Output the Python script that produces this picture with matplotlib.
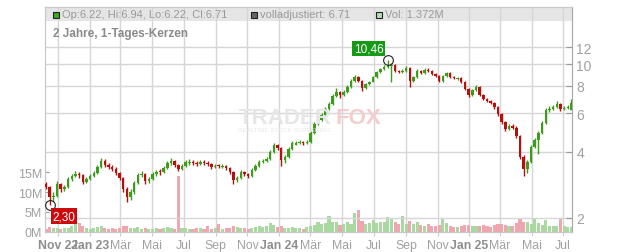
import matplotlib
matplotlib.use("Agg")
import matplotlib.pyplot as plt
import matplotlib.dates as mdates
import numpy as np
import pandas as pd

plt.rcParams['font.family'] = ['Liberation Sans', 'DejaVu Sans']

# weekly candles (price in EUR, volume in millions)
weeks = pd.date_range("2022-10-09", "2025-07-17", periods=144)

opens = [2.85, 2.76, 2.49, 2.52, 2.86, 2.71, 2.76, 3.01, 3.11, 3.17,
         3.14, 2.92, 3.01, 3.11, 3.20, 3.41, 3.64, 3.48, 3.41, 3.34,
         3.20, 3.04, 2.71, 2.49, 2.62, 2.89, 3.14, 3.17, 2.95, 3.01,
         3.17, 3.28, 3.24, 3.37, 3.56, 3.64, 3.48, 3.34, 3.45, 3.55,
         3.60, 3.56, 3.52, 3.60, 3.56, 3.52, 3.41, 3.49, 3.41, 3.45,
         3.37, 3.24, 2.98, 3.04, 3.24, 3.17, 3.11, 3.30, 3.45, 3.60,
         3.64, 3.71, 4.00, 4.30, 4.17, 3.68, 3.79, 4.13, 4.32, 4.38,
         4.43, 4.38, 4.43, 4.87, 5.36, 5.58, 5.87, 6.27, 6.60, 7.18,
         7.49, 7.26, 7.49, 7.90, 8.41, 8.77, 8.41, 7.81, 8.15, 8.32,
         8.77, 9.24, 9.54, 9.74, 9.85, 9.95, 9.34, 9.24, 9.34, 9.64,
         8.41, 8.77, 9.34, 9.14, 9.44, 9.34, 9.05, 8.86, 8.41, 8.86,
         9.14, 8.77, 8.60, 8.68, 8.32, 7.73, 7.26, 7.65, 7.90, 7.26,
         6.96, 6.82, 6.68, 6.40, 5.95, 5.47, 5.08, 5.25, 5.14, 4.70,
         3.79, 3.34, 3.60, 4.21, 4.53, 4.87, 5.42, 6.20, 6.27, 6.40,
         6.60, 6.27, 6.33, 6.22]
highs = [2.92, 2.80, 2.62, 2.95, 2.90, 2.84, 3.08, 3.18, 3.26, 3.25,
         3.18, 3.08, 3.16, 3.27, 3.48, 3.74, 3.70, 3.55, 3.50, 3.40,
         3.25, 3.08, 2.76, 2.70, 2.96, 3.20, 3.27, 3.22, 3.07, 3.23,
         3.32, 3.33, 3.45, 3.64, 3.76, 3.68, 3.52, 3.52, 3.68, 3.70,
         3.66, 3.62, 3.68, 3.66, 3.62, 3.56, 3.52, 3.54, 3.53, 3.50,
         3.42, 3.28, 3.10, 3.30, 3.29, 3.22, 3.37, 3.52, 3.66, 3.72,
         3.80, 4.08, 4.40, 4.36, 4.20, 3.86, 4.20, 4.46, 4.48, 4.52,
         4.48, 4.52, 4.98, 5.48, 5.70, 6.00, 6.40, 6.74, 7.32, 7.80,
         7.58, 7.62, 8.05, 8.55, 8.95, 8.85, 8.48, 8.26, 8.45, 8.90,
         9.38, 9.68, 9.90, 10.46, 10.20, 10.00, 9.48, 9.50, 9.85, 9.70,
         8.90, 9.50, 9.45, 9.62, 9.60, 9.42, 9.14, 8.95, 8.98, 9.28,
         9.20, 8.90, 8.80, 8.75, 8.40, 7.80, 7.76, 8.10, 7.98, 7.35,
         7.05, 6.92, 6.75, 6.48, 6.02, 5.55, 5.36, 5.38, 5.22, 4.78,
         3.86, 3.68, 4.30, 4.62, 4.98, 5.55, 6.32, 6.45, 6.55, 6.85,
         6.68, 6.45, 6.52, 6.94]
lows = [2.70, 2.30, 2.40, 2.50, 2.62, 2.66, 2.74, 2.96, 3.06, 3.05,
        2.85, 2.88, 2.97, 3.06, 3.16, 3.38, 3.42, 3.35, 3.28, 3.14,
        2.98, 2.62, 2.36, 2.42, 2.58, 2.85, 3.08, 2.86, 2.90, 2.98,
        3.12, 3.15, 3.20, 3.33, 3.50, 3.40, 3.28, 3.30, 3.42, 3.50,
        3.48, 3.46, 3.48, 3.50, 3.46, 3.34, 3.38, 3.38, 3.38, 3.31,
        3.18, 2.86, 2.92, 3.00, 3.10, 3.05, 3.08, 3.26, 3.42, 3.55,
        3.60, 3.68, 3.96, 4.08, 3.45, 3.55, 3.75, 4.10, 4.28, 4.33,
        4.30, 4.33, 4.40, 4.82, 5.30, 5.52, 5.80, 6.20, 6.55, 7.10,
        7.05, 7.20, 7.42, 7.85, 8.35, 8.30, 7.55, 7.75, 8.05, 8.28,
        8.70, 9.18, 9.45, 9.68, 8.32, 9.20, 9.10, 9.15, 9.28, 7.90,
        8.30, 8.70, 9.02, 9.08, 9.25, 8.96, 8.76, 8.30, 8.35, 8.80,
        8.66, 8.58, 8.52, 8.22, 7.62, 7.14, 7.20, 7.58, 7.15, 6.88,
        6.74, 6.58, 6.30, 5.85, 5.38, 5.00, 5.02, 5.06, 4.62, 3.70,
        3.10, 3.20, 3.55, 4.15, 3.92, 4.80, 5.38, 6.10, 6.18, 6.35,
        6.15, 6.20, 6.25, 6.22]
closes = [2.76, 2.49, 2.52, 2.86, 2.71, 2.76, 3.01, 3.11, 3.17, 3.14,
          2.92, 3.01, 3.11, 3.20, 3.41, 3.64, 3.48, 3.41, 3.34, 3.20,
          3.04, 2.71, 2.49, 2.62, 2.89, 3.14, 3.17, 2.95, 3.01, 3.17,
          3.24, 3.24, 3.37, 3.56, 3.64, 3.48, 3.34, 3.45, 3.60, 3.60,
          3.56, 3.52, 3.60, 3.56, 3.52, 3.41, 3.45, 3.45, 3.45, 3.37,
          3.24, 2.98, 3.04, 3.24, 3.17, 3.11, 3.30, 3.45, 3.60, 3.64,
          3.71, 4.00, 4.30, 4.17, 3.68, 3.79, 4.13, 4.38, 4.38, 4.43,
          4.38, 4.43, 4.87, 5.36, 5.58, 5.87, 6.27, 6.60, 7.18, 7.49,
          7.26, 7.49, 7.90, 8.41, 8.77, 8.41, 7.81, 8.15, 8.32, 8.77,
          9.24, 9.54, 9.74, 9.95, 9.95, 9.34, 9.24, 9.34, 9.64, 8.41,
          8.77, 9.34, 9.14, 9.44, 9.34, 9.05, 8.86, 8.41, 8.86, 9.14,
          8.77, 8.68, 8.68, 8.32, 7.73, 7.26, 7.65, 7.90, 7.26, 6.96,
          6.82, 6.68, 6.40, 5.95, 5.47, 5.08, 5.25, 5.14, 4.70, 3.79,
          3.34, 3.60, 4.21, 4.53, 4.87, 5.42, 6.20, 6.27, 6.40, 6.60,
          6.27, 6.33, 6.40, 6.71]
volumes = [0.8, 1.2, 0.9, 1.0, 0.7, 0.9, 1.1, 1.4, 2.0, 2.2,
           1.6, 0.9, 0.8, 1.0, 1.3, 1.5, 1.0, 0.7, 0.9, 0.8,
           0.9, 1.4, 1.6, 1.1, 1.0, 1.2, 0.8, 0.9, 0.7, 0.8,
           0.9, 0.7, 1.0, 1.2, 1.1, 0.8, 14.0, 1.0, 0.9, 0.8,
           0.7, 0.9, 1.0, 0.8, 1.4, 0.7, 0.9, 2.0, 0.8, 0.9,
           1.0, 1.5, 1.2, 0.9, 1.0, 0.8, 1.1, 1.3, 1.5, 1.2,
           1.4, 2.2, 1.8, 1.3, 1.6, 1.0, 1.1, 1.2, 0.9, 1.0,
           0.8, 1.2, 1.5, 1.8, 2.5, 2.0, 2.2, 4.0, 2.4, 2.6,
           1.8, 2.0, 2.4, 2.1, 4.7, 5.5, 2.8, 2.0, 2.3, 3.0,
           2.2, 2.6, 2.4, 3.7, 3.2, 2.5, 2.0, 4.0, 2.1, 2.8,
           2.0, 2.4, 1.8, 1.6, 1.9, 1.4, 1.5, 1.8, 3.2, 2.2,
           1.6, 1.3, 1.2, 1.5, 1.8, 1.7, 1.4, 1.6, 1.5, 1.8,
           1.4, 1.2, 1.7, 1.9, 2.0, 1.8, 1.5, 1.6, 2.2, 3.2,
           2.6, 2.4, 2.0, 3.2, 2.2, 1.8, 3.0, 1.6, 1.4, 1.5,
           3.2, 1.4, 1.2, 1.372]

month_ticks = pd.date_range("2022-11-01", "2025-07-01", freq="2MS")
month_labels = ["Nov 22", "Jan 23", "Mär", "Mai", "Jul", "Sep", "Nov",
                "Jan 24", "Mär", "Mai", "Jul", "Sep", "Nov",
                "Jan 25", "Mär", "Mai", "Jul"]
price_ticks = [2, 4, 6, 8, 10, 12]
vol_ticks = [0, 5, 10, 15]

green = "#3d9c1c"
red = "#b5100f"
grid_col = "#d6d6d6"
txt_col = "#a0a0a0"

W, H = 632, 253
fig = plt.figure(figsize=(W / 100, H / 100), dpi=100)
ax_v = fig.add_axes([45 / W, 20 / H, 527 / W, 225 / H])
ax_p = ax_v.twinx()

x = mdates.date2num(weeks)
o = np.array(opens); c = np.array(closes)
up = c >= o
cols = np.where(up, green, red)
vcols = np.where(up, "#a9d9a0", "#f0a6ae")

# header strip
ax_v.axhspan(56.25 * (1 - 14 / 225), 56.25, color="#e5e5e5", zorder=0.2, lw=0)

ax_v.bar(x, volumes, width=6.0, color=vcols, zorder=2, lw=0)
ax_v.set_ylim(0, 56.25)
ax_v.set_yticks(vol_ticks)
ax_v.set_yticklabels([f"{v}M" for v in vol_ticks])
ax_v.set_xticks(mdates.date2num(month_ticks))
ax_v.set_xticklabels(month_labels)
ax_v.set_axisbelow(True)
ax_v.grid(axis="x", color=grid_col, lw=1)
ax_v.tick_params(axis="y", direction="in", length=3, color="#999999",
                 labelcolor=txt_col, labelsize=9, pad=2)
ax_v.tick_params(axis="x", length=3, color="#cccccc", labelcolor=txt_col,
                 labelsize=8.8, pad=2)
for lab in ax_v.get_xticklabels():
    if lab.get_text()[-2:].isdigit():
        lab.set_fontweight("bold")
        lab.set_color("#8e8e8e")

# candles
ax_p.vlines(x, lows, highs, colors=cols, lw=1.0, zorder=3)
ax_p.bar(x, np.abs(c - o), bottom=np.minimum(o, c), width=4.8,
         color=cols, lw=0, zorder=3)
ax_p.set_yscale("log")
ax_p.set_ylim(1.727, 18.26)
ax_p.set_yticks(price_ticks)
ax_p.set_yticklabels([str(t) for t in price_ticks])
ax_p.minorticks_off()
ax_p.set_axisbelow(True)
ax_p.grid(axis="y", color=grid_col, lw=1)
ax_p.tick_params(axis="y", direction="in", length=4, color="#999999",
                 labelcolor=txt_col, labelsize=10, pad=3)
ax_v.set_xlim(mdates.date2num(pd.Timestamp("2022-10-07")),
              mdates.date2num(pd.Timestamp("2025-07-18")))

for a in (ax_v, ax_p):
    for s in a.spines.values():
        s.set_color("#c8c8c8")
ax_p.spines["right"].set_color("#aaaaaa")

# high / low markers
hi_i = int(np.argmax(highs)); lo_i = int(np.argmin(lows))
ax_p.plot(x[hi_i], highs[hi_i], "o", mfc="none", mec="#222222", ms=7, mew=0.8, zorder=5)
ax_p.plot(x[lo_i], lows[lo_i], "o", mfc="none", mec="#222222", ms=7, mew=0.8, zorder=5)
ax_p.annotate(f"{highs[hi_i]:.2f}".replace(".", ","), (x[hi_i], highs[hi_i]),
              xytext=(-3, 4), textcoords="offset points", ha="right", va="bottom",
              color="white", fontsize=8.5, zorder=6,
              bbox=dict(boxstyle="square,pad=0.15", fc="#159a15", ec="none"))
ax_p.annotate(f"{lows[lo_i]:.2f}".replace(".", ","), (x[lo_i], lows[lo_i]),
              xytext=(2, -4), textcoords="offset points", ha="left", va="top",
              color="white", fontsize=8.5, zorder=6,
              bbox=dict(boxstyle="square,pad=0.15", fc="#cc0a0a", ec="none"))

# watermark
fig.text(332 / W, 1 - 119 / H, "TRADER", ha="right", va="center", fontsize=16,
         fontweight="bold", color="#e6e6e6", zorder=0)
fig.text(336 / W, 1 - 119 / H, "FOX", ha="left", va="center", fontsize=16,
         fontweight="bold", color="#f5cccc", zorder=0)
fig.text(238 / W, 1 - 131 / H, "REALTIME STOCK SCREENING", ha="left", va="center",
         fontsize=4.5, color="#e8e8e8", zorder=0)

# header legend
def legend_item(px, label, fc):
    fig.patches.append(plt.Rectangle(((px - 3) / W, 1 - 18.5 / H), 6 / W, 6 / H,
                                     transform=fig.transFigure, fc=fc, ec="#222222",
                                     lw=0.8, zorder=10))
    fig.text((px + 6) / W, 1 - 15.5 / H, label, ha="left", va="center",
             fontsize=8, color="#9a9a9a", zorder=10)

legend_item(55.5, "Op:6.22, Hi:6.94, Lo:6.22, Cl:6.71", "#3aa81c")
legend_item(254, "volladjustiert: 6.71", "#666666")
legend_item(379, "Vol: 1.372M", "#b3dfb0")
fig.text(53 / W, 1 - 33.5 / H, "2 Jahre, 1-Tages-Kerzen", ha="left", va="center",
         fontsize=8.5, fontweight="bold", color="#8a8a8a")

fig.savefig("out.png", dpi=100)
